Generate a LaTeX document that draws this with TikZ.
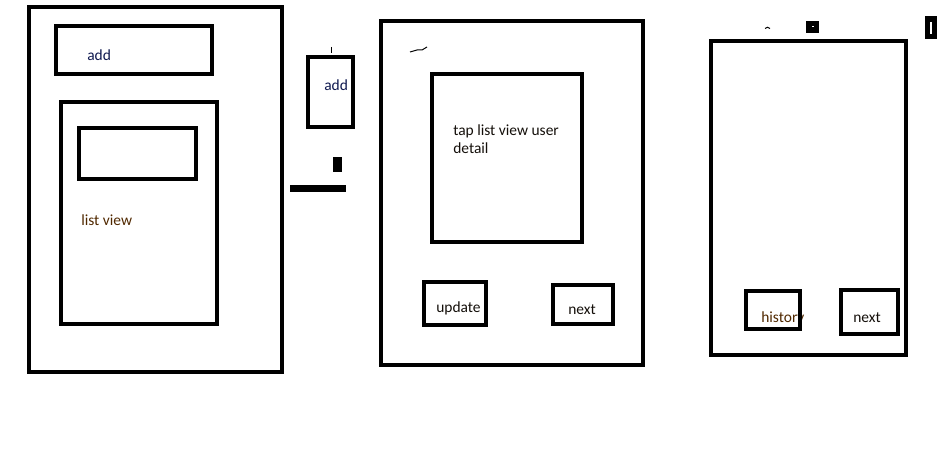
\documentclass[tikz,border=0pt]{standalone}
\usepackage{fontspec}
\setmainfont{Carlito}
\usepackage{tikz}
\usetikzlibrary{fit}
\definecolor{mydark}{RGB}{20,15,10}
\definecolor{mynavy}{RGB}{15,25,80}
\definecolor{mybrown}{RGB}{80,40,0}
\tikzset{
  frame/.style={rectangle, draw=black, line width=3pt, inner sep=0pt, outer sep=0pt},
  blot/.style={fill=black, draw=none},
  thinline/.style={line width=0.75pt, color=black}
}

\begin{document}
\begin{tikzpicture}[x=0.75pt, y=-0.75pt,
  lbl/.style={font=\fontsize{11.6}{13.5}\selectfont, inner sep=0pt, anchor=base west, color=mydark, align=left}
]
\useasboundingbox (0,0) rectangle (951,460);

% List page
\node[frame, fit={(29,7) (282,372)}] (listpage) {};
\node[frame, fit={(56,26) (212,74)}] (addbar) {};
\node[lbl, color=mynavy] (addtxt) at (87,61) {add};
\node[frame, fit={(61,102) (217,324)}] (listbox) {};
\node[frame, fit={(79,128) (196,179)}] (listitem) {};
\node[lbl, color=mybrown] (listtxt) at (81,225) {list view};

% Add button
\node[frame, fit={(308,57) (353,127)}] (addbtn) {};
\node[lbl, color=mynavy] (addbtntxt) at (324,91) {add};
\draw[thinline] (331,47) -- (331,53);
\fill[blot] (333,157) rectangle (342,172);
\fill[blot] (290,185) rectangle (346,192);

% Detail page
\node[frame, fit={(381,21) (643,365)}] (detailpage) {};
\draw[thinline] (410,52) -- (417,50) -- (422,50) -- (427,47);
\node[frame, fit={(432,74) (582,242)}] (detailbox) {};
\node[lbl, anchor=north west] (detailtxt) at (453,124.5) {tap list view user\\detail};
\node[frame, fit={(424,282) (486,325)}] (updatebtn) {};
\node[lbl] (updatetxt) at (436,312) {update};
\node[frame, fit={(553,285) (613,324)}] (nextbtn) {};
\node[lbl] (nexttxt) at (568,314) {next};

% History page
\node[frame, fit={(711,41) (906,355)}] (historypage) {};
\draw[thinline] (765,28.5) .. controls (766,26.8) and (769,26.8) .. (770,28.5);
\fill[blot] (806,21) rectangle (819,33);
\draw[white, line width=0.75pt] (812,27) -- (814,27);
\fill[blot] (925,16) rectangle (937,39);
\draw[white, line width=1.5pt] (931,22) -- (931,34);
\node[lbl, color=mybrown] (historytxt) at (761,322) {history};
\node[frame, fit={(746,291) (800,329)}] (historybtn) {};
\node[frame, fit={(841,290) (898,334)}] (nextbtnb) {};
\node[lbl] (nexttxtb) at (853,322) {next};
\end{tikzpicture}
\end{document}
